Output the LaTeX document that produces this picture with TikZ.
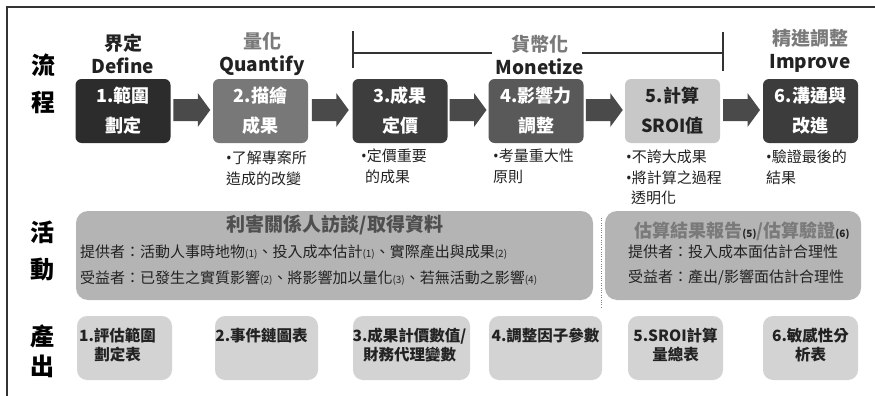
\documentclass[tikz,border=0pt]{standalone}
\usepackage{fontspec}
\setmainfont{Noto Sans CJK TC}
\newfontfamily\bulfont{Noto Sans}
\usetikzlibrary{positioning,calc}

\definecolor{frameC}{HTML}{333333}
\definecolor{procA}{HTML}{2C2C2C}
\definecolor{procB}{HTML}{787878}
\definecolor{procC}{HTML}{3D3D3D}
\definecolor{procD}{HTML}{595959}
\definecolor{procE}{HTML}{C8C8C8}
\definecolor{procF}{HTML}{3C3C3C}
\definecolor{arrC}{HTML}{4A4A4A}
\definecolor{hdGray}{HTML}{7A7A7A}
\definecolor{txtC}{HTML}{222222}
\definecolor{actC}{HTML}{B4B4B4}
\definecolor{actTitle}{HTML}{4F4F4F}
\definecolor{outC}{HTML}{D3D3D3}

\newcommand{\subn}[1]{{\fontsize{10}{10}\selectfont(#1)}}
\newcommand{\bul}{{\bulfont •}}

\tikzset{
	proc/.style={rounded corners=6pt, minimum width=95pt, minimum height=64pt, inner sep=0pt,
		text=white, align=center, font=\fontsize{18}{30}\selectfont\bfseries},
	blockarr/.pic={\fill[arrC] (-18.5,-11) -- (6,-11) -- (6,-17) -- (18.5,0) -- (6,17) -- (6,11) -- (-18.5,11) -- cycle;},
	header/.style={align=center, inner sep=0pt, text=txtC, font=\fontsize{19}{23}\selectfont\bfseries},
	rowlbl/.style={align=center, inner sep=0pt, text=black, font=\fontsize{24}{37}\selectfont\bfseries},
	note/.style={anchor=north west, inner sep=0pt, align=left, text=txtC, font=\fontsize{15}{20.5}\selectfont},
	actbox/.style={rounded corners=12pt, fill=actC, minimum height=89pt, inner sep=0pt},
	actline/.style={anchor=west, inner sep=0pt, text=txtC, font=\fontsize{15}{15}\selectfont},
	outbox/.style={rounded corners=10pt, fill=outC, minimum height=64pt, inner sep=0pt},
	outtxt/.style={anchor=north, inner sep=0pt, align=center, text=txtC, font=\fontsize{15.5}{19}\selectfont\bfseries}
}

\begin{document}
\begin{tikzpicture}[x=1pt, y=-1pt]
	\useasboundingbox (0,0) rectangle (875,396);
	\draw[line width=1.2pt, frameC] (7,396) -- (7,7) -- (875,7);

	% row labels
	\node[rowlbl] (lblflow) at (43,84) {流\\程};
	\node[rowlbl] (lblact) at (42,251) {活\\動};
	\node[rowlbl, font=\fontsize{24}{30}\selectfont\bfseries] (lblout) at (42,351) {產\\出};

	% process boxes
	\node[proc, fill=procA] (p1) at (123,111) {1.範圍\\劃定};
	\node[proc, fill=procB] (p2) at (260.5,111) {2.描繪\\成果};
	\node[proc, fill=procC] (p3) at (400,111) {3.成果\\定價};
	\node[proc, fill=procD] (p4) at (536,111) {4.影響力\\調整};
	\node[proc, fill=procE, text=txtC] (p5) at (672.5,111) {5.計算\\SROI值};
	\node[proc, fill=procF] (p6) at (810.5,111) {6.溝通與\\改進};

	\pic (a1) at ($(p1.east)!0.5!(p2.west)+(0,-1)$) {blockarr};
	\pic (a2) at ($(p2.east)!0.5!(p3.west)+(0,-1)$) {blockarr};
	\pic (a3) at ($(p3.east)!0.5!(p4.west)+(0,-1)$) {blockarr};
	\pic (a4) at ($(p4.east)!0.5!(p5.west)+(0,-1)$) {blockarr};
	\pic (a5) at ($(p5.east)!0.5!(p6.west)+(0,-1)$) {blockarr};

	% headers
	\node[header] (hd1) at (123,54) {界定\\Define};
	\node[header] (hd2) at (262,54) {{\color{hdGray}量化}\\Quantify};
	\node[header] (hd3) at (540,55) {{\color{hdGray}貨幣化}\\Monetize};
	\node[header] (hd4) at (810,51) {{\color{hdGray}精進調整}\\Improve};

	% monetize bracket
	\coordinate (brl) at (353,53);
	\coordinate (brr) at (723,53);
	\draw[line width=1.5pt, frameC] (353,31) -- (353,68) (723,32) -- (723,71);
	\draw[line width=1.5pt, frameC] (brl) -- ($(hd3.west |- brl)+(-4,0)$);
	\draw[line width=1.5pt, frameC] ($(hd3.east |- brr)+(-2,0)$) -- (brr);

	% notes
	\node[note] (n2) at (226,151) {\bul 了解專案所\\造成的改變};
	\node[note] (n3) at (361,149) {\bul 定價重要\\\hspace*{4pt}的成果};
	\node[note] (n4) at (493,149) {\bul 考量重大性\\原則};
	\node[note] (n5) at (626,150) {\bul 不誇大成果\\\bul 將計算之過程\\\hspace*{5pt}透明化};
	\node[note] (n6) at (766,150) {\bul 驗證最後的\\結果};

	% activities
	\node[actbox, minimum width=517pt] (act1) at (334.5,255.5) {};
	\node[actbox, minimum width=256pt] (act2) at (733,255.5) {};
	\draw[dotted, gray] (601,218) -- (601,307);

	\node[inner sep=0pt, text=actTitle, font=\fontsize{19}{19}\selectfont\bfseries] (act1t) at (335,225) {利害關係人訪談/取得資料};
	\node[actline] (act1a) at (80,252) {提供者：活動人事時地物\subn{1}、投入成本估計\subn{1}、實際產出與成果\subn{2}};
	\node[actline] (act1b) at (80,278) {受益者：已發生之實質影響\subn{2}、將影響加以量化\subn{3}、若無活動之影響\subn{4}};

	\node[inner sep=0pt, text=hdGray, font=\fontsize{18}{18}\selectfont\bfseries] (act2t) at (742,231)
		{估算結果報告{\color{txtC}\subn{5}}/估算驗證{\color{txtC}\subn{6}}};
	\node[actline] (act2a) at (628,252) {提供者：投入成本面估計合理性};
	\node[actline] (act2b) at (628,277) {受益者：產出/影響面估計合理性};

	% outputs
	\node[outbox, minimum width=95pt] (o1) at (124.5,348) {};
	\node[outbox, minimum width=103pt] (o2) at (266.5,348) {};
	\node[outbox, minimum width=117pt] (o3) at (411.5,348) {};
	\node[outbox, minimum width=113pt] (o4) at (545.5,348) {};
	\node[outbox, minimum width=95pt] (o5) at (675.5,348) {};
	\node[outbox, minimum width=95pt] (o6) at (810.5,348) {};

	\node[outtxt, below=12pt of o1.north, xshift=-7pt] (o1t) {1.評估範圍\\劃定表};
	\node[outtxt, below=12pt of o2.north, xshift=-5pt] (o2t) {2.事件鏈圖表};
	\node[outtxt, below=12pt of o3.north, xshift=-2pt] (o3t) {3.成果計價數值/\\財務代理變數};
	\node[outtxt, below=12pt of o4.north] (o4t) {4.調整因子參數};
	\node[outtxt, below=12pt of o5.north] (o5t) {5.SROI計算\\量總表};
	\node[outtxt, below=12pt of o6.north] (o6t) {6.敏感性分\\析表};
\end{tikzpicture}
\end{document}
